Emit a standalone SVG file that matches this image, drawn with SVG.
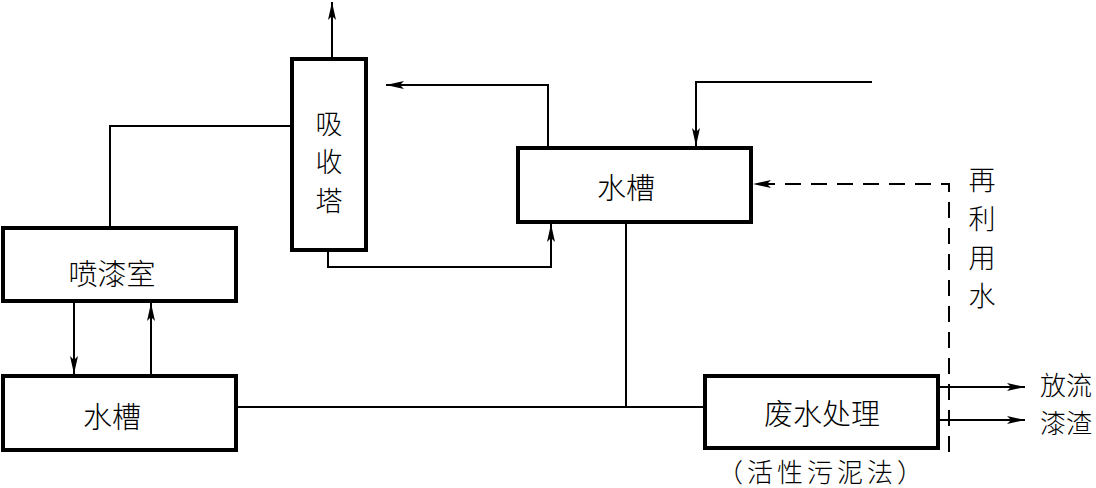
<svg xmlns="http://www.w3.org/2000/svg" width="1096" height="488" viewBox="0 0 1096 488">
<style>
.box{fill:#fff;stroke:#000;stroke-width:4}
.ln{fill:none;stroke:#000;stroke-width:2}
.dash{fill:none;stroke:#000;stroke-width:2;stroke-dasharray:16 10}
.t{font-family:"Noto Sans CJK SC","Noto Sans CJK JP",sans-serif;font-size:29px;font-weight:300;fill:#000;text-anchor:middle;dominant-baseline:central}
.s{font-size:26px}
.v{font-size:27px}
</style>
<defs>
<marker id="ah" viewBox="0 0 18 8" refX="18" refY="4" markerWidth="18" markerHeight="8" markerUnits="userSpaceOnUse" orient="auto">
<path d="M0,0 L18,4 L0,8 L4,4 Z" fill="#000"/>
</marker>
</defs>
<rect width="1096" height="488" fill="#fff"/>
<g id="connectors">
<path class="ln" d="M332,59 V2" marker-end="url(#ah)"/>
<path class="ln" d="M548,148 V85 H386" marker-end="url(#ah)"/>
<path class="ln" d="M328,250 V267 H551 V224" marker-end="url(#ah)"/>
<path class="ln" d="M292,126 H110 V228"/>
<path class="ln" d="M872,82 H696 V146" marker-end="url(#ah)"/>
<path class="dash" d="M949,452 V184 H753" marker-end="url(#ah)"/>
<path class="ln" d="M74,301 V374" marker-end="url(#ah)"/>
<path class="ln" d="M151,376 V303" marker-end="url(#ah)"/>
<path class="ln" d="M236,407 H705"/>
<path class="ln" d="M626,222 V407"/>
<path class="ln" d="M938,387 H1025" marker-end="url(#ah)"/>
<path class="ln" d="M938,420 H1025" marker-end="url(#ah)"/>
</g>
<g id="absorber">
<rect class="box" x="292" y="59" width="74" height="191"/>
<text class="t v" x="329" y="122">吸</text>
<text class="t v" x="329" y="160">收</text>
<text class="t v" x="329" y="199">塔</text>
</g>
<g id="tank-upper">
<rect class="box" x="518" y="148" width="233" height="74"/>
<text class="t" x="626" y="186">水槽</text>
</g>
<g id="spray-booth">
<rect class="box" x="3" y="228" width="233" height="73"/>
<text class="t" x="112" y="272">喷漆室</text>
</g>
<g id="tank-lower">
<rect class="box" x="3" y="376" width="233" height="74"/>
<text class="t" x="112" y="415">水槽</text>
</g>
<g id="wastewater">
<rect class="box" x="705" y="376" width="233" height="72"/>
<text class="t" x="822" y="412">废水处理</text>
<text class="t s" x="820" y="470" textLength="206" lengthAdjust="spacing">（活性污泥法）</text>
</g>
<g id="labels">
<text class="t v" x="982" y="178">再</text>
<text class="t v" x="982" y="217">利</text>
<text class="t v" x="982" y="256">用</text>
<text class="t v" x="982" y="294">水</text>
<text class="t s" x="1066" y="383">放流</text>
<text class="t s" x="1066" y="421">漆渣</text>
</g>
</svg>
